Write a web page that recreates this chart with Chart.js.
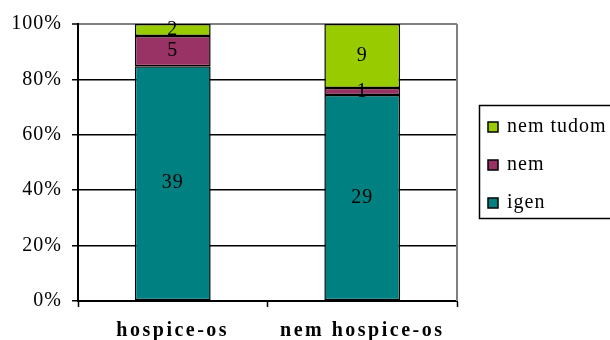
<!DOCTYPE html>
<html><head><meta charset="utf-8">
<script src="https://cdn.jsdelivr.net/npm/chart.js@4/dist/chart.umd.min.js"></script>
<style>html,body{margin:0;padding:0;background:#fff}#wrap{width:610px;height:340px;position:relative}</style>
</head><body><div id="wrap"><canvas id="c" width="610" height="340"></canvas></div>
<script>
// ---- data ----
const categories = ['hospice-os', 'nem hospice-os'];
const igen = [39, 29];
const nem = [5, 1];
const nemTudom = [2, 9];
const seriesNames = ['igen', 'nem', 'nem tudom'];
const yTickValues = [0, 20, 40, 60, 80, 100];

const colors = ['#008080', '#993366', '#99CC00'];
const FONT = "'Liberation Serif', 'Times New Roman', serif";

const counts = [igen, nem, nemTudom];
const totals = categories.map((_, i) => counts.reduce((s, arr) => s + arr[i], 0));
const toPct = arr => arr.map((v, i) => v / totals[i] * 100);

const datasets = counts.map((arr, k) => ({
  label: seriesNames[k],
  data: toPct(arr),
  counts: arr,
  backgroundColor: colors[k],
  borderColor: '#000',
  borderWidth: 1.5,
  borderSkipped: false,
  categoryPercentage: 1.0,
  barPercentage: 0.4
}));

const spacingPlugin = {
  id: 'spacing',
  beforeDraw(chart) {
    chart.ctx.letterSpacing = '1px';
    const xs = chart.scales.x;
    if (!xs._patched) {
      const orig = xs.drawLabels;
      xs.drawLabels = function (area) {
        const c = this.ctx;
        c.letterSpacing = '2.5px';
        orig.call(this, area);
        c.letterSpacing = '1px';
      };
      xs._patched = true;
    }
  }
};

const framePlugin = {
  id: 'frame',
  beforeDatasetsDraw(chart) {
    const {ctx, chartArea: a} = chart;
    ctx.save();
    ctx.strokeStyle = '#808080';
    ctx.lineWidth = 2;
    ctx.beginPath();
    ctx.moveTo(a.right, a.top);
    ctx.lineTo(a.right, a.bottom);
    ctx.stroke();
    ctx.restore();
  }
};

const labelPlugin = {
  id: 'barLabels',
  afterDatasetsDraw(chart) {
    const ctx = chart.ctx;
    ctx.save();
    ctx.font = '20px ' + FONT;
    ctx.fillStyle = '#000';
    ctx.textAlign = 'center';
    ctx.textBaseline = 'middle';
    chart.data.datasets.forEach((ds, k) => {
      const meta = chart.getDatasetMeta(k);
      meta.data.forEach((el, i) => {
        const cy = (el.y + el.base) / 2;
        ctx.fillText(String(ds.counts[i]), el.x, cy);
      });
    });
    ctx.restore();
  }
};

const legendPlugin = {
  id: 'customLegend',
  afterDraw(chart) {
    const ctx = chart.ctx;
    ctx.save();
    ctx.strokeStyle = '#000';
    ctx.lineWidth = 1.5;
    ctx.strokeRect(479.5, 105.5, 200, 113);
    ctx.font = '20px ' + FONT;
    ctx.textAlign = 'left';
    ctx.textBaseline = 'middle';
    const order = [2, 1, 0];
    const ys = [127, 165, 203];
    order.forEach((k, j) => {
      const ds = chart.data.datasets[k];
      const y = ys[j];
      ctx.fillStyle = ds.backgroundColor;
      ctx.fillRect(488, y - 5, 10, 10);
      ctx.lineWidth = 1.5;
      ctx.strokeRect(488, y - 5, 10, 10);
      ctx.fillStyle = '#000';
      ctx.fillText(ds.label, 507, y);
    });
    ctx.restore();
  }
};

new Chart(document.getElementById('c'), {
  type: 'bar',
  data: { labels: categories, datasets },
  plugins: [spacingPlugin, framePlugin, labelPlugin, legendPlugin],
  options: {
    responsive: false,
    animation: false,
    layout: { padding: { top: 24, right: 153, left: 0, bottom: 0 } },
    plugins: { legend: { display: false }, tooltip: { enabled: false } },
    scales: {
      x: {
        stacked: true,
        afterFit(s) { s.height = 39; },
        border: { color: '#000', width: 2 },
        grid: { display: true, drawOnChartArea: false, drawTicks: true, tickLength: 6, tickColor: '#000', tickWidth: 1.5, offset: true },
        ticks: { color: '#000', padding: 12, font: { family: FONT, size: 20, weight: 'bold' } }
      },
      y: {
        stacked: true,
        min: 0, max: 100,
        afterFit(s) { s.width = 78; },
        afterBuildTicks(s) { s.ticks = yTickValues.map(v => ({ value: v })); },
        border: { color: '#000', width: 2 },
        grid: {
          color: c => (c.tick && c.tick.value === 100) ? '#808080' : '#000',
          lineWidth: c => (c.tick && c.tick.value === 100) ? 2 : 1.5,
          tickColor: '#000', tickLength: 6, tickWidth: 1.5
        },
        ticks: { color: '#000', padding: 10, font: { family: FONT, size: 20 }, callback: v => v + '%' }
      }
    }
  }
});
</script>
</body></html>
